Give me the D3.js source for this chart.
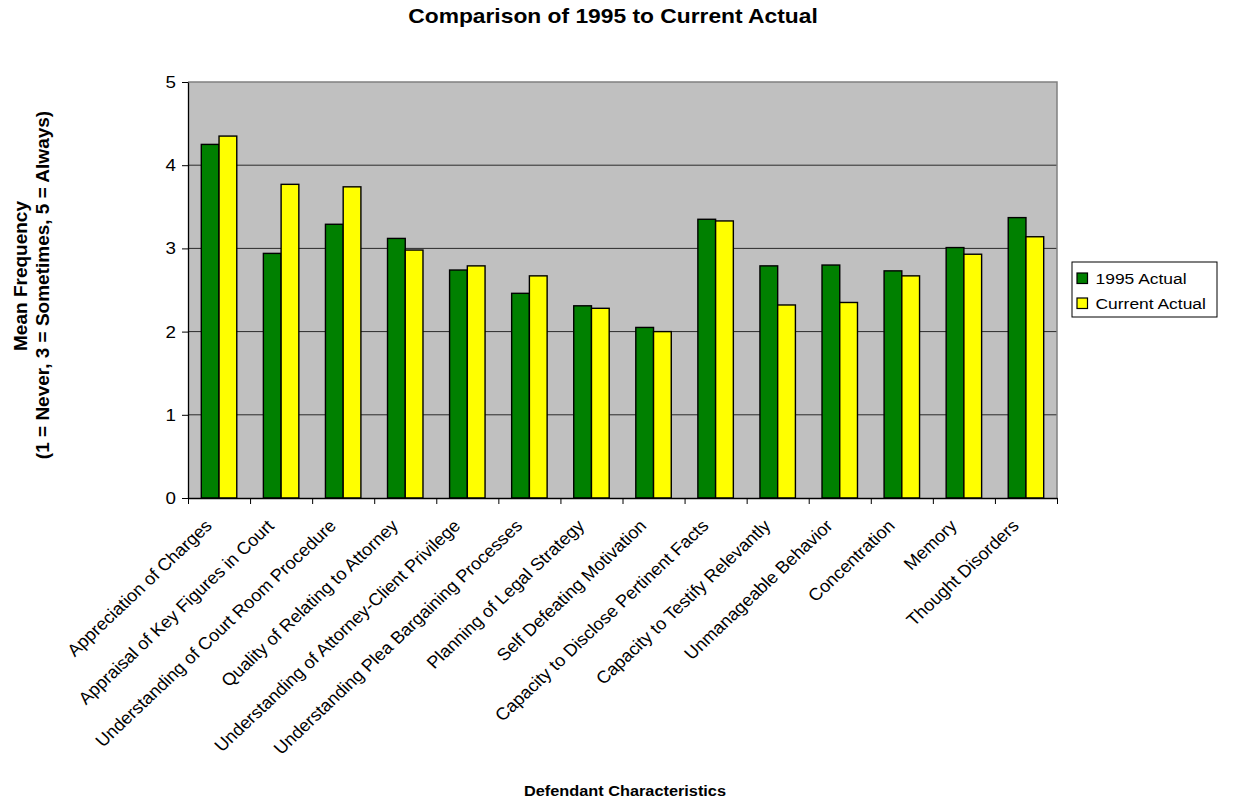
<!DOCTYPE html>
<html>
<head>
<meta charset="utf-8">
<script src="https://cdn.jsdelivr.net/npm/d3@7"></script>
<style>
  html, body { margin: 0; padding: 0; background: #fff; }
  svg { display: block; font-family: "Liberation Sans", Arial, Helvetica, sans-serif; }
</style>
</head>
<body>
<svg id="chart" width="1233" height="806"></svg>
<script>
// Defendant characteristics, in display order
const categories = [
  "Appreciation of Charges",
  "Appraisal of Key Figures in Court",
  "Understanding of Court Room Procedure",
  "Quality of Relating to Attorney",
  "Understanding of Attorney-Client Privilege",
  "Understanding Plea Bargaining Processes",
  "Planning of Legal Strategy",
  "Self Defeating Motivation",
  "Capacity to Disclose Pertinent Facts",
  "Capacity to Testify Relevantly",
  "Unmanageable Behavior",
  "Concentration",
  "Memory",
  "Thought Disorders"
];

const seriesNames = ["1995 Actual", "Current Actual"];
const actual1995 = [4.25, 2.94, 3.29, 3.12, 2.74, 2.46, 2.31, 2.05, 3.35, 2.79, 2.80, 2.73, 3.01, 3.37];
const actualCurrent = [4.35, 3.77, 3.74, 2.98, 2.79, 2.67, 2.28, 2.00, 3.33, 2.32, 2.35, 2.67, 2.93, 3.14];
const yTicks = [0, 1, 2, 3, 4, 5];

const seriesColors = ["#008000", "#FFFF00"];
const SX = 1.14;       // horizontal widening of the lettering
const SX_LABEL = 1.06; // widening used on the slanted category labels

const svg = d3.select("#chart");
const plot = { left: 188, right: 1057, top: 82, bottom: 498 };

const x = d3.scaleBand()
  .domain(categories)
  .range([plot.left, plot.right])
  .paddingInner(0)
  .paddingOuter(0);

const xInner = d3.scaleBand()
  .domain(seriesNames)
  .range([0, x.bandwidth()])
  .paddingInner(0)
  .paddingOuter(0.75);

const y = d3.scaleLinear().domain([0, 5]).range([plot.bottom, plot.top]);

// boundary scale for category tick marks
const xEdge = d3.scaleLinear().domain([0, categories.length]).range([plot.left, plot.right]);

// plot background
svg.append("rect")
  .attr("x", plot.left).attr("y", plot.top)
  .attr("width", plot.right - plot.left).attr("height", plot.bottom - plot.top)
  .attr("fill", "#C0C0C0");

// horizontal gridlines
svg.append("g")
  .selectAll("line")
  .data(yTicks.filter(d => d > 0 && d < 5))
  .join("line")
  .attr("x1", plot.left).attr("x2", plot.right)
  .attr("y1", d => y(d)).attr("y2", d => y(d))
  .attr("stroke", "#2a2a2a").attr("stroke-width", 1);

// top and right frame
svg.append("path")
  .attr("d", `M${plot.left},${y(5)}H${plot.right}V${y(0)}`)
  .attr("fill", "none").attr("stroke", "#808080").attr("stroke-width", 1.5);

// bars
const rows = categories.map((c, i) => ({ cat: c, values: [actual1995[i], actualCurrent[i]] }));
const groups = svg.append("g")
  .selectAll("g")
  .data(rows)
  .join("g")
  .attr("transform", d => `translate(${x(d.cat)},0)`);

groups.selectAll("rect")
  .data(d => d.values.map((v, j) => ({ name: seriesNames[j], value: v, j })))
  .join("rect")
  .attr("x", d => xInner(d.name))
  .attr("width", xInner.bandwidth())
  .attr("y", d => y(d.value))
  .attr("height", d => y(0) - y(d.value))
  .attr("fill", d => seriesColors[d.j])
  .attr("stroke", "#000").attr("stroke-width", 1.4);

// y axis
const yAxis = svg.append("g")
  .attr("transform", `translate(${plot.left},0)`)
  .call(d3.axisLeft(y).tickValues(yTicks).tickSize(6).tickSizeOuter(0).tickFormat(d3.format("d")));
yAxis.select(".domain").attr("stroke", "#000").attr("stroke-width", 1.3);
yAxis.selectAll(".tick line").attr("stroke", "#000");
yAxis.selectAll(".tick text")
  .attr("x", null).attr("dy", null)
  .attr("transform", `translate(-12,0) scale(${SX},1)`)
  .attr("dominant-baseline", "central")
  .attr("font-size", 16.5).attr("fill", "#000")
  .style("font-family", "'Liberation Sans', Arial, sans-serif");

// x axis with ticks on category boundaries
const xAxis = svg.append("g")
  .attr("transform", `translate(0,${plot.bottom})`)
  .call(d3.axisBottom(xEdge).tickValues(d3.range(categories.length + 1)).tickSize(6).tickSizeOuter(0).tickFormat(""));
xAxis.select(".domain").attr("stroke", "#000").attr("stroke-width", 1.3);
xAxis.selectAll(".tick line").attr("stroke", "#000");

// category labels
svg.append("g")
  .selectAll("text")
  .data(categories)
  .join("text")
  .attr("transform", d => `translate(${x(d) + x.bandwidth() / 2 - 6},${plot.bottom + 29}) scale(${SX_LABEL},1) rotate(-45)`)
  .attr("text-anchor", "end")
  .attr("font-size", 17.2)
  .attr("fill", "#000")
  .text(d => d);

// chart title
svg.append("text")
  .attr("transform", `translate(613,23) scale(${SX},1)`)
  .attr("text-anchor", "middle")
  .attr("font-size", 20).attr("font-weight", "bold")
  .text("Comparison of 1995 to Current Actual");

// x axis title
svg.append("text")
  .attr("transform", `translate(625,796) scale(${SX},1)`)
  .attr("text-anchor", "middle")
  .attr("font-size", 14.3).attr("font-weight", "bold")
  .text("Defendant Characteristics");

// y axis title (two lines)
const yTitle = ["Mean Frequency", "(1 = Never, 3 = Sometimes, 5 = Always)"];
svg.append("g")
  .selectAll("text")
  .data(yTitle)
  .join("text")
  .attr("transform", (d, i) => `translate(${i === 0 ? 27 : 49},${i === 0 ? 276 : 285}) rotate(-90)`)
  .attr("text-anchor", "middle")
  .attr("font-size", 19).attr("font-weight", "bold")
  .text(d => d);

// legend
const legend = svg.append("g").attr("transform", "translate(1072,262)");
legend.append("rect")
  .attr("width", 145).attr("height", 55)
  .attr("fill", "#fff").attr("stroke", "#000").attr("stroke-width", 1);
const items = legend.selectAll("g.item")
  .data(seriesNames)
  .join("g")
  .attr("class", "item")
  .attr("transform", (d, i) => `translate(5,${11 + i * 25})`);
items.append("rect")
  .attr("width", 10.5).attr("height", 10.5)
  .attr("fill", (d, i) => seriesColors[i])
  .attr("stroke", "#000").attr("stroke-width", 1.2);
items.append("text")
  .attr("transform", `translate(18.5,10.5) scale(${SX},1)`)
  .attr("font-size", 15.3).attr("fill", "#000")
  .text(d => d);
</script>
</body>
</html>
